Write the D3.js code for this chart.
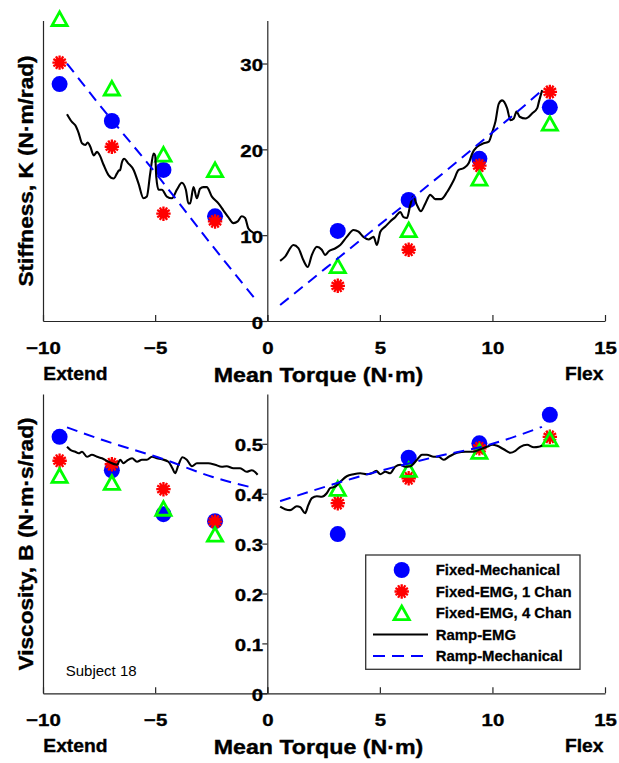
<!DOCTYPE html>
<html>
<head>
<meta charset="utf-8">
<script src="https://cdn.jsdelivr.net/npm/d3@7"></script>
<style>
  body { margin: 0; background: #fff; }
  svg { display: block; font-family: "Liberation Sans", Arial, sans-serif; }
</style>
</head>
<body>
<div class="chart"></div>
<script>
// fixed trials: mean torque (N·m)
const fixedTorque = [-9.26, -6.93, -4.63, -2.33, 3.13, 6.28, 9.42, 12.55];

// stiffness K (N·m/rad)
const kMech = [27.6, 23.3, 17.6, 12.2, 10.5, 14.1, 18.9, 24.9];
const kEmg1 = [30.1, 20.3, 12.5, 11.6, 4.1, 8.3, 18.1, 26.7];
const kEmg4 = [35.2, 27.1, 19.4, 17.6, 6.4, 10.6, 16.6, 23.0];

// viscosity B (N·m·s/rad)
const bMech = [0.514, 0.447, 0.359, 0.345, 0.319, 0.472, 0.501, 0.558];
const bEmg1 = [0.466, 0.459, 0.409, 0.344, 0.381, 0.431, 0.491, 0.514];
const bEmg4 = [0.436, 0.422, 0.370, 0.318, 0.410, 0.448, 0.484, 0.509];

// ramp trials, [torque, value]
const rampEmgK_ext = [[-8.93,24.1],[-8.71,23.2],[-8.56,22.8],[-8.41,21.9],[-8.26,20.7],[-8.11,20.5],[-8.01,20.8],
  [-7.89,20.3],[-7.74,19.3],[-7.59,19.7],[-7.49,19.4],[-7.30,18.2],[-7.08,17.0],[-6.85,16.6],[-6.70,17.2],
  [-6.63,17.5],[-6.56,17.6],[-6.48,18.5],[-6.38,18.9],[-6.21,18.4],[-5.96,17.6],[-5.74,16.0],[-5.52,14.3],
  [-5.37,14.5],[-5.22,17.2],[-5.07,19.5],[-5.00,19.3],[-4.95,16.8],[-4.85,15.3],[-4.70,15.3],[-4.48,14.5],
  [-4.25,14.3],[-4.03,15.3],[-3.81,16.1],[-3.63,15.3],[-3.52,13.7],[-3.44,13.7],[-3.29,15.6],[-3.14,14.3],
  [-3.00,15.4],[-2.85,15.6],[-2.70,15.6],[-2.47,14.5],[-2.18,13.7],[-1.96,12.9],[-1.74,12.1],[-1.51,11.4],
  [-1.32,11.6],[-1.14,12.2],[-0.99,12.0],[-0.85,10.8],[-0.69,10.4],[-0.58,10.2]];
const rampEmgK_flex = [[0.57,7.0],[0.79,7.5],[1.16,8.85],[1.38,8.5],[1.60,7.1],[1.80,6.3],[1.98,7.7],[2.20,8.65],
  [2.42,8.3],[2.57,7.7],[2.72,8.1],[3.01,8.45],[3.24,8.85],[3.53,9.8],[3.83,10.6],[4.05,10.4],[4.27,9.8],
  [4.50,9.5],[4.72,9.8],[4.87,8.85],[5.02,10.4],[5.24,11.0],[5.46,11.6],[5.68,12.1],[5.91,12.7],[6.05,12.1],
  [6.20,12.0],[6.35,13.5],[6.47,14.5],[6.65,13.5],[6.82,12.8],[7.02,13.7],[7.24,14.7],[7.46,14.2],[7.72,14.2],
  [7.98,15.0],[8.28,16.4],[8.50,17.6],[8.72,17.8],[8.95,18.4],[9.10,19.5],[9.32,20.3],[9.61,20.7],[9.84,20.9],
  [9.99,22.0],[10.13,23.2],[10.28,25.3],[10.43,25.7],[10.65,24.8],[10.80,23.4],[10.95,23.6],[11.07,24.4],
  [11.21,23.8],[11.47,23.6],[11.77,24.2],[11.99,24.8],[12.06,25.5],[12.21,26.9]];
const rampMechK_ext = [[-8.93,30.0],[-7.67,25.8],[-5.00,17.3],[-2.40,8.6],[-0.55,2.6]];
const rampMechK_flex = [[0.57,1.86],[2.57,6.1],[9.32,20.5],[11.99,26.4],[12.2,26.9]];

const rampEmgB_ext = [[-8.93,0.494],[-8.78,0.488],[-8.56,0.484],[-8.41,0.481],[-8.26,0.484],[-8.04,0.474],
  [-7.82,0.478],[-7.59,0.474],[-7.37,0.471],[-7.08,0.464],[-6.70,0.458],[-6.56,0.468],[-6.41,0.461],
  [-6.26,0.466],[-6.03,0.471],[-5.81,0.464],[-5.59,0.468],[-5.37,0.468],[-5.14,0.474],[-4.92,0.471],
  [-4.70,0.469],[-4.41,0.464],[-4.23,0.451],[-4.11,0.441],[-3.96,0.458],[-3.78,0.473],[-3.59,0.468],
  [-3.36,0.455],[-3.14,0.461],[-2.92,0.461],[-2.63,0.461],[-2.33,0.458],[-2.03,0.454],[-1.81,0.455],
  [-1.51,0.451],[-1.21,0.451],[-0.92,0.444],[-0.69,0.447],[-0.43,0.438]];
const rampEmgB_flex = [[0.57,0.374],[0.79,0.369],[1.01,0.367],[1.31,0.375],[1.46,0.373],[1.68,0.361],
  [1.82,0.377],[1.98,0.391],[2.20,0.395],[2.42,0.394],[2.64,0.401],[2.79,0.411],[3.01,0.414],[3.24,0.424],
  [3.53,0.435],[3.83,0.439],[4.13,0.441],[4.42,0.439],[4.65,0.441],[4.84,0.446],[5.02,0.439],[5.24,0.444],
  [5.46,0.441],[5.68,0.454],[5.91,0.458],[6.13,0.454],[6.35,0.455],[6.65,0.468],[6.87,0.478],[7.09,0.478],
  [7.39,0.474],[7.61,0.474],[7.83,0.468],[8.06,0.474],[8.43,0.482],[8.80,0.484],[9.10,0.484],[9.47,0.489],
  [9.76,0.494],[9.99,0.498],[10.21,0.496],[10.50,0.489],[10.80,0.482],[11.02,0.486],[11.24,0.494],
  [11.54,0.498],[11.84,0.493],[12.06,0.494],[12.21,0.497]];
const rampMechB_ext = [[-8.93,0.533],[-7.37,0.508],[-4.55,0.468],[-2.47,0.434],[-0.55,0.411]];
const rampMechB_flex = [[0.57,0.385],[3.83,0.431],[7.39,0.473],[10.0,0.500],[12.2,0.534]];

const stiffTicks = [0, 10, 20, 30];
const viscTicks = [0, 0.1, 0.2, 0.3, 0.4, 0.5];
const extTicks = [-10, -5, 0];
const flexTicks = [0, 5, 10, 15];
const legendLabels = ['Fixed-Mechanical', 'Fixed-EMG, 1 Chan', 'Fixed-EMG, 4 Chan', 'Ramp-EMG', 'Ramp-Mechanical'];

const BLUE = '#0000ff', RED = '#ff0000', GREEN = '#00ff00', AXIS = '#262626';

const svg = d3.select('.chart').append('svg')
  .attr('width', 619).attr('height', 763);
svg.append('rect').attr('width', 619).attr('height', 763).attr('fill', '#fff');

const xExt = d3.scaleLinear().domain([-10, 0]).range([43, 267.3]);
const xFlex = d3.scaleLinear().domain([0, 15]).range([267.3, 605]);
const xOf = t => t < 0 ? xExt(t) : xFlex(t);

const yK = d3.scaleLinear().domain([0, 35]).range([321, 20.6]);
const yB = d3.scaleLinear().domain([0, 0.6]).range([693.3, 393.9]);

// text with horizontal stretch to match the wide bold glyphs
function label(x, y, txt, size, sx, anchor, weight, rot) {
  const t = svg.append('text')
    .attr('transform', `translate(${x},${y})` + (rot ? ' rotate(-90)' : '') + ` scale(${sx},1)`)
    .attr('text-anchor', anchor)
    .attr('font-size', size)
    .attr('font-weight', weight)
    .attr('fill', '#000')
    .text(txt);
  if (weight === 'bold') t.attr('stroke', '#000').attr('stroke-width', 0.35);
  return t;
}

function starPath(r) {
  let p = '';
  for (let i = 0; i < 6; i++) {
    const a = i * Math.PI / 6;
    p += `M${r * Math.cos(a)},${r * Math.sin(a)}L${-r * Math.cos(a)},${-r * Math.sin(a)}`;
  }
  return p;
}
const triPath = 'M0,-7L7.6,6.6L-7.6,6.6Z';

function drawMarker(g, kind, x, y) {
  if (kind === 0) {
    g.append('circle').attr('cx', x).attr('cy', y).attr('r', 8).attr('fill', BLUE);
  } else if (kind === 1) {
    const s = g.append('g').attr('transform', `translate(${x},${y})`);
    s.append('circle').attr('r', 4.5).attr('fill', RED);
    s.append('path').attr('d', starPath(7.2))
      .attr('stroke', RED).attr('stroke-width', 2.3).attr('fill', 'none');
  } else {
    g.append('path').attr('d', triPath).attr('transform', `translate(${x},${y})`)
      .attr('stroke', GREEN).attr('stroke-width', 2.8).attr('fill', 'none')
      .attr('stroke-linejoin', 'miter');
  }
}

function styleAxis(g) {
  g.select('.domain').attr('stroke', AXIS).attr('stroke-width', 1.2);
  g.selectAll('.tick line').attr('stroke', AXIS).attr('stroke-width', 1.2);
  g.selectAll('.tick text')
    .attr('font-family', '"Liberation Sans", Arial, sans-serif')
    .attr('font-size', 17).attr('font-weight', 'bold').attr('fill', '#000')
    .attr('stroke', '#000').attr('stroke-width', 0.35);
}

function panel(y, yTicks, fmt, series, rampEmg, rampMech) {
  const base = y.range()[0];

  // extend-side axes (no y labels)
  svg.append('g').attr('transform', `translate(${xExt(-10)},0)`)
    .call(d3.axisLeft(y).tickValues([]).tickSizeOuter(0)).call(styleAxis);
  const gx1 = svg.append('g').attr('transform', `translate(0,${base})`)
    .call(d3.axisBottom(xExt).tickValues(extTicks).tickSizeInner(-6).tickSizeOuter(0).tickFormat(d3.format('d')))
    .call(styleAxis);
  gx1.selectAll('.tick text').attr('y', 33).attr('dy', 0).attr('transform', 'scale(1.2,1)');

  // flex-side axes
  const gy = svg.append('g').attr('transform', `translate(${xFlex(0)},0)`)
    .call(d3.axisLeft(y).tickValues(yTicks).tickSizeInner(5).tickSizeOuter(0).tickFormat(fmt))
    .call(styleAxis);
  gy.selectAll('.tick text').attr('x', -3.6).attr('dy', '0.42em').attr('transform', 'scale(1.2,1)');
  const gx2 = svg.append('g').attr('transform', `translate(0,${base})`)
    .call(d3.axisBottom(xFlex).tickValues(flexTicks).tickSizeInner(-6).tickSizeOuter(0)
      .tickFormat(d => d === 0 ? '' : d3.format('d')(d)))
    .call(styleAxis);
  gx2.selectAll('.tick text').attr('y', 33).attr('dy', 0).attr('transform', 'scale(1.2,1)');

  // fixed-trial markers
  const gm = svg.append('g');
  series.forEach((vals, kind) => {
    vals.forEach((v, i) => drawMarker(gm, kind, xOf(fixedTorque[i]), y(v)));
  });

  // ramp lines
  const line = d3.line().x(d => xOf(d[0])).y(d => y(d[1])).curve(d3.curveMonotoneX);
  rampEmg.forEach(seg => svg.append('path').attr('d', line(seg))
    .attr('fill', 'none').attr('stroke', '#000').attr('stroke-width', 2.1).attr('stroke-linejoin', 'round'));
  rampMech.forEach(seg => svg.append('path').attr('d', line(seg))
    .attr('fill', 'none').attr('stroke', BLUE).attr('stroke-width', 2).attr('stroke-dasharray', '11,7'));
}

panel(yK, stiffTicks, d3.format('d'), [kMech, kEmg1, kEmg4],
  [rampEmgK_ext, rampEmgK_flex], [rampMechK_ext, rampMechK_flex]);
panel(yB, viscTicks, d => d === 0 ? '0' : d3.format('.1f')(d), [bMech, bEmg1, bEmg4],
  [rampEmgB_ext, rampEmgB_flex], [rampMechB_ext, rampMechB_flex]);

// axis titles
label(33, 171, 'Stiffness, K (N·m/rad)', 19.5, 1.16, 'middle', 'bold', true);
label(33, 544, 'Viscosity, B (N·m·s/rad)', 19.5, 1.16, 'middle', 'bold', true);
[381.5, 753.5].forEach(yy => label(318.5, yy, 'Mean Torque (N·m)', 19.5, 1.19, 'middle', 'bold'));
[379.5, 751.7].forEach(yy => {
  label(43.3, yy, 'Extend', 17.5, 1.1, 'start', 'bold');
  label(603.5, yy, 'Flex', 17.5, 1.1, 'end', 'bold');
});
label(65.7, 676, 'Subject 18', 15, 1, 'start', 'normal');

// legend
const lg = svg.append('g');
lg.append('rect').attr('x', 365.7).attr('y', 555).attr('width', 214.3).attr('height', 114.3)
  .attr('fill', '#fff').attr('stroke', '#333').attr('stroke-width', 1.3);
const rowY = d3.scalePoint().domain(legendLabels).range([570, 656]);
legendLabels.forEach((name, i) => {
  const yy = rowY(name);
  if (i < 3) drawMarker(lg, i, 401.7, yy);
  else lg.append('line').attr('x1', 373).attr('x2', 428).attr('y1', yy).attr('y2', yy)
    .attr('stroke', i === 3 ? '#000' : BLUE).attr('stroke-width', 2.1)
    .attr('stroke-dasharray', i === 3 ? null : '12,7');
  lg.append('text')
    .attr('transform', `translate(435.7,${yy + 5}) scale(1.03,1)`)
    .attr('font-size', 14.5).attr('font-weight', 'bold')
    .attr('stroke', '#000').attr('stroke-width', 0.25).text(name);
});
</script>
</body>
</html>
